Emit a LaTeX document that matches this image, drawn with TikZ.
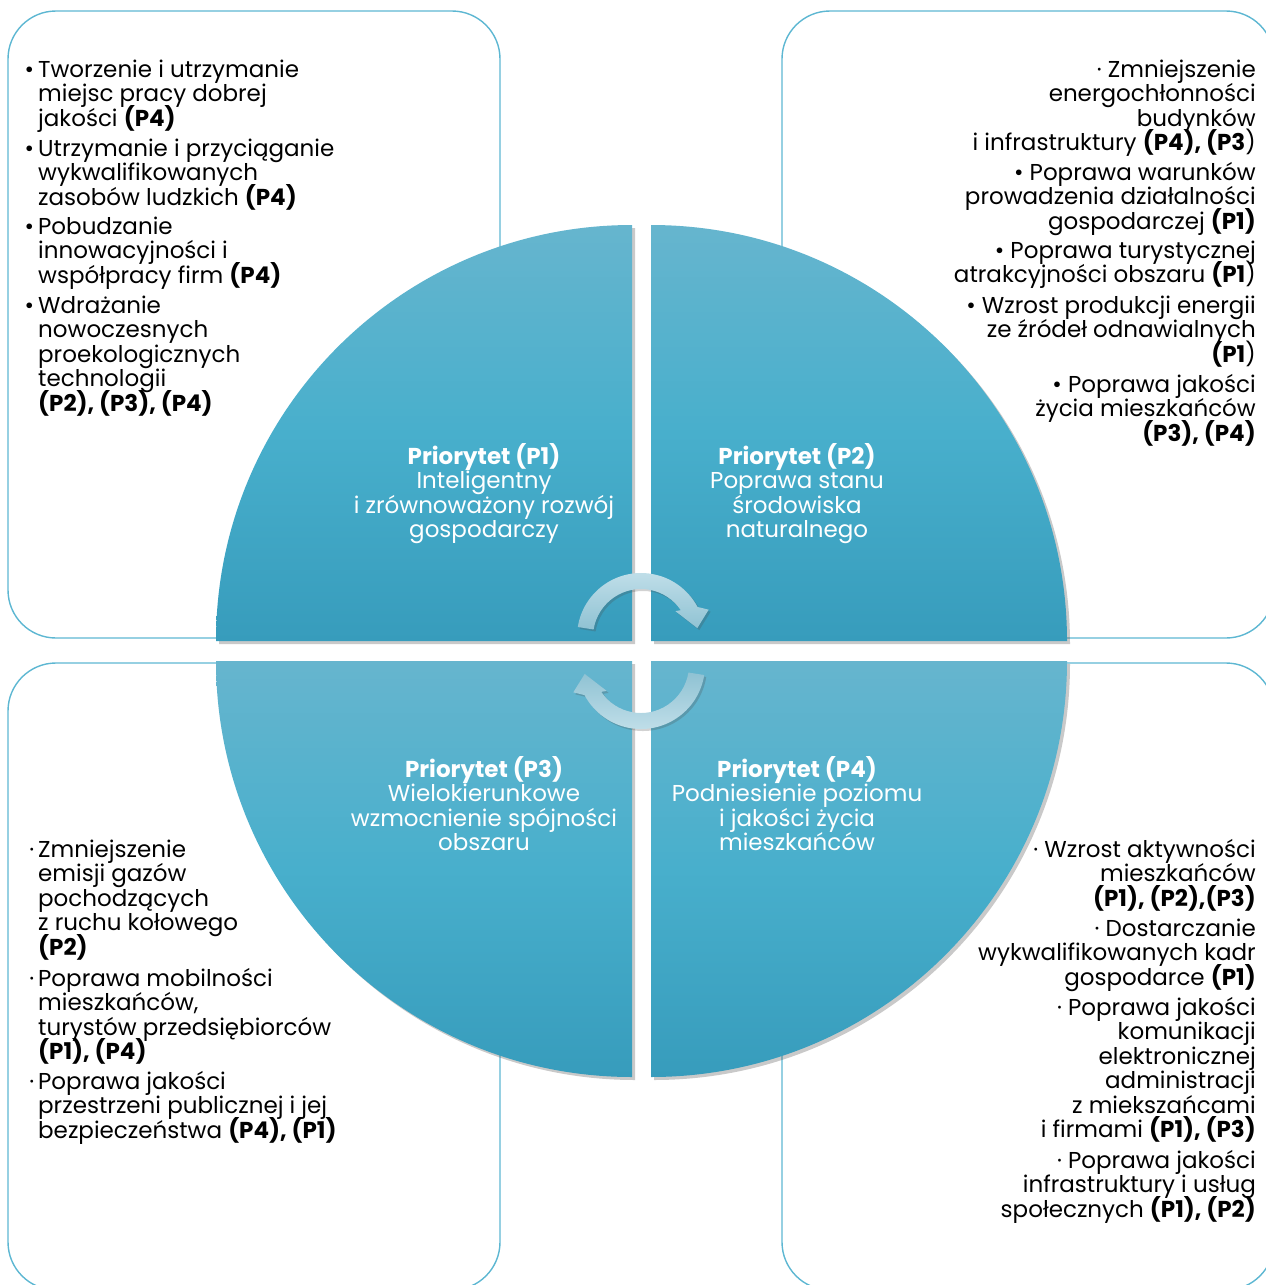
\documentclass[tikz,border=0pt]{standalone}
\usepackage{fontspec}
\setmainfont{Poppins}
\usetikzlibrary{calc,shadows}

\definecolor{liniaramki}{HTML}{5DB7D2}
\definecolor{kolgora}{HTML}{66B5CE}
\definecolor{kolsrodek}{HTML}{48AFCC}
\definecolor{koldol}{HTML}{379CBC}
\definecolor{strjasny}{HTML}{C3E0EA}
\definecolor{strciemny}{HTML}{8FC2D3}

\newcommand{\kropa}{\llap{•\hspace{4pt}}}
\newcommand{\kropka}{\llap{·\hspace{4pt}}}
\newcommand{\pismo}{\fontsize{23}{24.5}\selectfont\lineskiplimit=-50pt\relax}

\begin{document}
\begin{tikzpicture}[x=1pt,y=1pt,
    ramka/.style={draw=liniaramki,line width=1.4pt,rounded corners=48pt},
    cwiartka/.style={top color=kolgora,bottom color=koldol,middle color=kolsrodek,
        drop shadow={shadow xshift=3pt,shadow yshift=-3pt,opacity=.3,fill=black!70}},
    opis/.style={inner sep=0pt,font=\pismo,text=black},
    tytul/.style={inner sep=0pt,align=center,anchor=base,text=white,font=\pismo}]
    \useasboundingbox (0,0) rectangle (1266,-1285);
    \clip (0,0) rectangle (1266,-1285);
    % ramki
    \draw[ramka] (8,-11) rectangle (500,-638);
    \draw[ramka] (782,-11) rectangle (1274,-638);
    \draw[ramka] (8,-663) rectangle (500,-1290);
    \draw[ramka] (782,-663) rectangle (1274,-1290);
    % kolo
    \path[cwiartka] (632,-641) -- (216,-641) arc[start angle=180,end angle=90,radius=416] -- cycle;
    \path[cwiartka] (651,-641) -- (651,-225) arc[start angle=90,end angle=0,radius=416] -- cycle;
    \path[cwiartka] (632,-661) -- (632,-1077) arc[start angle=270,end angle=180,radius=416] -- cycle;
    \path[cwiartka] (651,-661) -- (1067,-661) arc[start angle=0,end angle=-90,radius=416] -- cycle;
    % strzalki
    \coordinate (s1) at (641,-637);
    \coordinate (s2) at (641,-665);
    \path[top color=strjasny,bottom color=strciemny,
        drop shadow={shadow xshift=2pt,shadow yshift=-2pt,opacity=.25,fill=black!70}]
        ($(s1)+(171:64)$) arc[start angle=171,end angle=28,radius=64]
        -- ($(s1)+(22:73)$) -- ($(s1)+(9:57)$) -- ($(s1)+(37:43)$) -- ($(s1)+(34:48)$)
        arc[start angle=34,end angle=171,radius=48] -- cycle;
    \path[top color=strciemny,bottom color=strjasny,
        drop shadow={shadow xshift=2pt,shadow yshift=-2pt,opacity=.25,fill=black!70}]
        ($(s2)+(-9:64)$) arc[start angle=-9,end angle=-152,radius=64]
        -- ($(s2)+(202:73)$) -- ($(s2)+(189:57)$) -- ($(s2)+(217:43)$) -- ($(s2)+(214:48)$)
        arc[start angle=214,end angle=351,radius=48] -- cycle;
    % priorytety (base = ostatnia linia)
    \node[tytul] (p1) at (484,-537.5) {\textbf{Priorytet (P1)}\\Inteligentny\\i zrównoważony rozwój\\gospodarczy};
    \node[tytul] (p2) at (797,-537.5) {\textbf{Priorytet (P2)}\\Poprawa stanu\\środowiska\\naturalnego};
    \node[tytul] (p3) at (484,-850.5) {\textbf{Priorytet (P3)}\\Wielokierunkowe\\wzmocnienie spójności\\obszaru};
    \node[tytul] (p4) at (797,-850.5) {\textbf{Priorytet (P4)}\\Podniesienie poziomu\\i jakości życia\\mieszkańców};
    % lewa gora
    \node[opis,align=left,anchor=base west] (lg1) at (38,-126) {\kropa Tworzenie i utrzymanie\\miejsc pracy dobrej\\jakości \textbf{(P4)}};
    \node[opis,align=left,anchor=base west] (lg2) at (38,-205) {\kropa Utrzymanie i przyciąganie\\wykwalifikowanych\\zasobów ludzkich \textbf{(P4)}};
    \node[opis,align=left,anchor=base west] (lg3) at (38,-283) {\kropa Pobudzanie\\innowacyjności i\\współpracy firm \textbf{(P4)}};
    \node[opis,align=left,anchor=base west] (lg4) at (38,-411) {\kropa Wdrażanie\\nowoczesnych\\proekologicznych\\technologii\\\textbf{(P2), (P3), (P4)}};
    % prawa gora
    \node[opis,align=right,anchor=base east] (pg1) at (1256,-150.5) {· Zmniejszenie\\energochłonności\\budynków\\i infrastruktury \textbf{(P4), (P3})};
    \node[opis,align=right,anchor=base east] (pg2) at (1256,-229) {• Poprawa warunków\\prowadzenia działalności\\gospodarczej \textbf{(P1)}};
    \node[opis,align=right,anchor=base east] (pg3) at (1256,-282.5) {• Poprawa turystycznej\\atrakcyjności obszaru \textbf{(P1})};
    \node[opis,align=right,anchor=base east] (pg4) at (1256,-362) {• Wzrost produkcji energii\\ze źródeł odnawialnych\\\textbf{(P1})};
    \node[opis,align=right,anchor=base east] (pg5) at (1256,-441) {• Poprawa jakości\\życia mieszkańców\\\textbf{(P3), (P4)}};
    % lewy dol
    \node[opis,align=left,anchor=base west] (ld1) at (38,-955) {\kropka Zmniejszenie\\emisji gazów\\pochodzących\\z ruchu kołowego\\\textbf{(P2)}};
    \node[opis,align=left,anchor=base west] (ld2) at (38,-1059.5) {\kropka Poprawa mobilności\\mieszkańców,\\turystów przedsiębiorców\\\textbf{(P1), (P4)}};
    \node[opis,align=left,anchor=base west] (ld3) at (38,-1138) {\kropka Poprawa jakości\\przestrzeni publicznej i jej\\bezpieczeństwa \textbf{(P4), (P1)}};
    % prawy dol
    \node[opis,align=right,anchor=base east] (pd1) at (1256,-906) {· Wzrost aktywności\\mieszkańców\\\textbf{(P1), (P2),(P3)}};
    \node[opis,align=right,anchor=base east] (pd2) at (1256,-985) {· Dostarczanie\\wykwalifikowanych kadr\\gospodarce \textbf{(P1)}};
    \node[opis,align=right,anchor=base east] (pd3) at (1256,-1137.5) {· Poprawa jakości\\komunikacji\\elektronicznej\\administracji\\z miekszańcami\\i firmami \textbf{(P1), (P3)}};
    \node[opis,align=right,anchor=base east] (pd4) at (1256,-1217) {· Poprawa jakości\\infrastruktury i usług\\społecznych \textbf{(P1), (P2)}};
\end{tikzpicture}
\end{document}
